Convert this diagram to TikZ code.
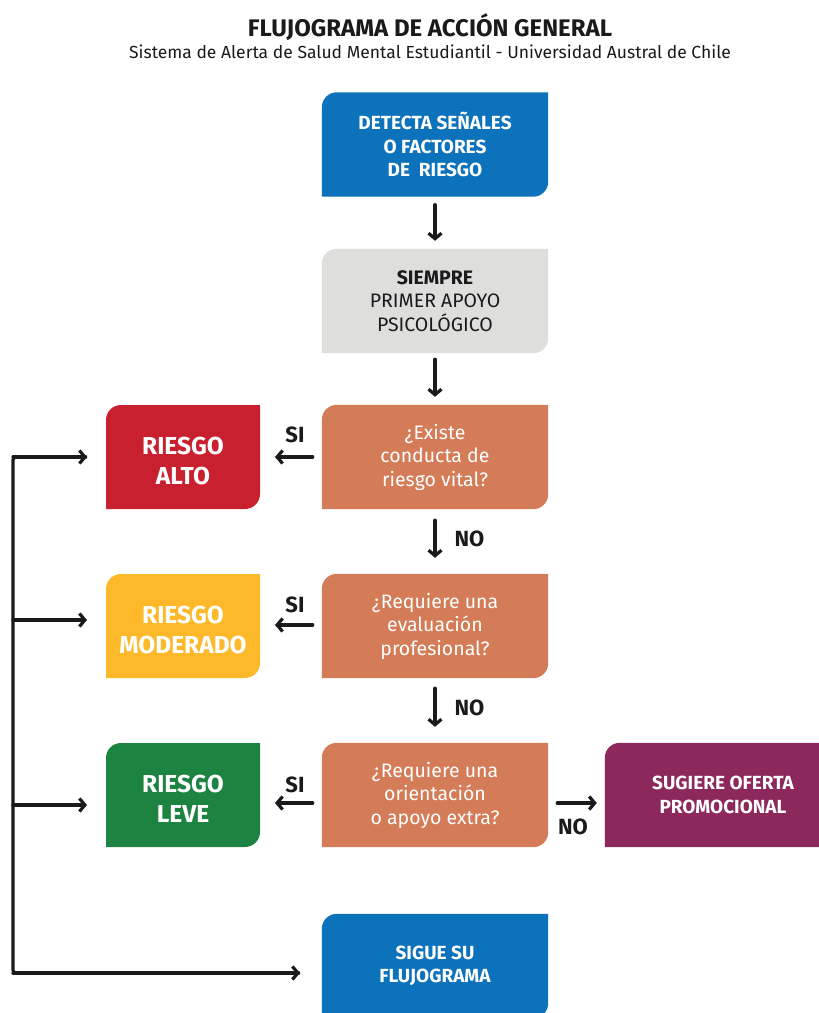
\documentclass[tikz,border=0pt]{standalone}
\usepackage{fontspec}
\setmainfont{Fira Sans}
\usetikzlibrary{arrows.meta,backgrounds,calc}
\definecolor{cblue}{HTML}{0B72BB}
\definecolor{cgray}{HTML}{DEDEDD}
\definecolor{corange}{HTML}{D47C58}
\definecolor{cred}{HTML}{C8202F}
\definecolor{cyellow}{HTML}{FDB92A}
\definecolor{cgreen}{HTML}{1D8341}
\definecolor{cpurple}{HTML}{8C285C}
\definecolor{cdark}{HTML}{1A1A1A}
\newcommand{\leafshape}[2]{%
  \fill[#2] (#1.south west) -- ($(#1.north west)+(0,-15)$) arc[start angle=180,end angle=90,radius=15] -- (#1.north east) -- ($(#1.south east)+(0,15)$) arc[start angle=0,end angle=-90,radius=15] -- cycle;}
\begin{document}
\begin{tikzpicture}[x=1pt,y=1pt,
  box/.style={rectangle,minimum width=226pt,minimum height=104pt,inner sep=0pt,align=center,text=white,font=\fontsize{19.5}{23.5}\selectfont},
  bbox/.style={box,font=\fontsize{19}{23.5}\selectfont\bfseries},
  rbox/.style={box,minimum width=154pt,font=\fontsize{24.5}{30}\selectfont\bfseries},
  arr/.style={draw=cdark,line width=3.2pt,-{Straight Barb[length=5.5pt,width=13pt,line width=3.2pt]},line cap=round},
  lbl/.style={text=cdark,font=\fontsize{22}{24}\selectfont\bfseries,inner sep=0pt}]
\useasboundingbox (0,0) rectangle (819,-1013);
\node[text=cdark,font=\fontsize{24}{26}\selectfont\bfseries] (title) at (430,-27) {FLUJOGRAMA DE ACCIÓN GENERAL};
\node[text=cdark,font=\fontsize{17.5}{20}\selectfont] (sub) at (430,-52) {Sistema de Alerta de Salud Mental Estudiantil - Universidad Austral de Chile};
\node[bbox] (det) at (435,-144.5) {DETECTA SEÑALES\\O FACTORES\\DE\ \ RIESGO};
\node[box,text=cdark] (siem) at (435,-301) {\textbf{SIEMPRE}\\PRIMER APOYO\\PSICOLÓGICO};
\node[box] (q1) at (435,-457) {¿Existe\\conducta de\\riesgo vital?};
\node[box] (q2) at (435,-626) {¿Requiere una\\evaluación\\profesional?};
\node[box] (q3) at (435,-795) {¿Requiere una\\orientación\\o apoyo extra?};
\node[rbox] (alto) at (183,-461) {RIESGO\\ALTO};
\node[rbox] (mod) at (183,-630) {RIESGO\\MODERADO};
\node[rbox] (leve) at (183,-799) {RIESGO\\LEVE};
\node[bbox,minimum width=236pt] (sug) at (723,-795) {SUGIERE OFERTA\\PROMOCIONAL};
\node[bbox] (sigue) at (435,-966) {SIGUE SU\\FLUJOGRAMA};
\begin{scope}[on background layer]
\leafshape{det}{cblue}
\leafshape{siem}{cgray}
\leafshape{q1}{corange}
\leafshape{q2}{corange}
\leafshape{q3}{corange}
\fill[cred] (106,-509) -- (106,-420) arc[start angle=180,end angle=90,radius=15] -- (260,-405) -- (260,-494) arc[start angle=0,end angle=-90,radius=15] -- cycle;
\fill[cyellow] (106,-678) -- (106,-589) arc[start angle=180,end angle=90,radius=15] -- (260,-574) -- (260,-663) arc[start angle=0,end angle=-90,radius=15] -- cycle;
\fill[cgreen] (106,-847) -- (106,-758) arc[start angle=180,end angle=90,radius=15] -- (260,-743) -- (260,-832) arc[start angle=0,end angle=-90,radius=15] -- cycle;
\leafshape{sug}{cpurple}
\leafshape{sigue}{cblue}
\end{scope}
% vertical arrows
\draw[arr] ($(det.south)+(0,-8)$) -- ($(siem.north)+(0,8)$);
\draw[arr] ($(siem.south)+(0,-6)$) -- ($(q1.north)+(0,8)$);
\draw[arr] ($(q1.south)+(0,-11)$) -- ($(q2.north)+(0,16)$) node[lbl,midway,right=18pt] (no1) {NO};
\draw[arr] ($(q2.south)+(0,-10)$) -- ($(q3.north)+(0,16)$) node[lbl,midway,right=18pt] (no2) {NO};
% SI arrows
\draw[arr] ($(q1.west)+(-9,0)$) -- (275,-457);
\node[lbl] (si1) at (295,-435) {SI};
\draw[arr] ($(q2.west)+(-9,1)$) -- (275,-625);
\node[lbl] (si2) at (295,-605) {SI};
\draw[arr] ($(q3.west)+(-9,-8)$) -- (275,-803);
\node[lbl] (si3) at (295,-785) {SI};
% NO right arrow
\draw[arr] ($(q3.east)+(9,-8)$) -- ($(sug.west)+(-8,-8)$);
\node[lbl] (no3) at (573,-827) {NO};
% left bracket
\coordinate (b0) at (13,-457);
\coordinate (b1) at (13,-620);
\coordinate (b2) at (13,-805);
\coordinate (b3) at (13,-973);
\coordinate (e0) at (87,-457);
\coordinate (e3) at (300,-973);
\draw[draw=cdark,line width=3.2pt,rounded corners=3pt] (e0) -- (b0) -- (b3) -- (e3);
\draw[arr] (b0) -- (e0);
\draw[arr] (b1) -- (87,-620);
\draw[arr] (b2) -- (87,-805);
\draw[arr] (b3) -- (e3);
\end{tikzpicture}
\end{document}
